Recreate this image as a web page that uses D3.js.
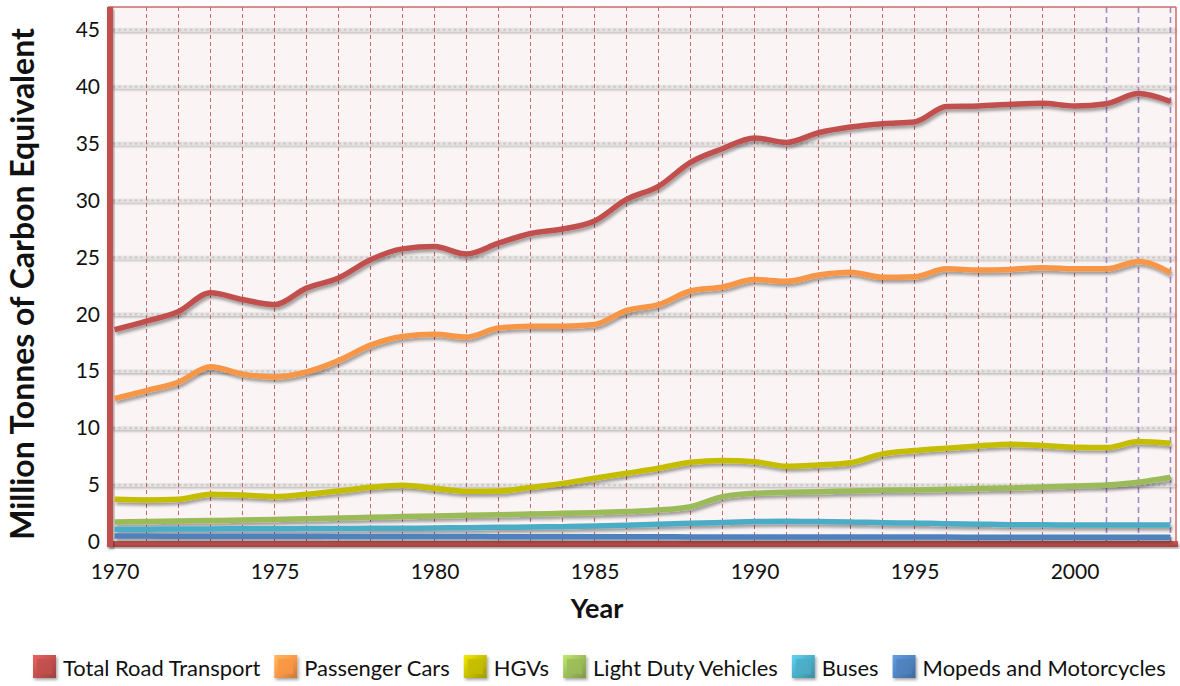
<!DOCTYPE html>
<html>
<head>
<meta charset="utf-8">
<script src="https://cdn.jsdelivr.net/npm/d3@7/dist/d3.min.js"></script>
<style>
  html, body { margin: 0; padding: 0; background: #ffffff; }
  svg { display: block; font-family: Lato, "Open Sans", sans-serif; }
</style>
</head>
<body>
<svg id="chart" width="1180" height="686"></svg>
<script>
// ---- data -----------------------------------------------------------------
const years = [1970, 1971, 1972, 1973, 1974, 1975, 1976, 1977, 1978, 1979,
               1980, 1981, 1982, 1983, 1984, 1985, 1986, 1987, 1988, 1989,
               1990, 1991, 1992, 1993, 1994, 1995, 1996, 1997, 1998, 1999,
               2000, 2001, 2002, 2003];

const totalRoadTransport = [18.65, 19.4, 20.25, 21.9, 21.3, 20.85, 22.3, 23.2, 24.8, 25.75,
                            25.95, 25.3, 26.25, 27.1, 27.5, 28.2, 30.1, 31.25, 33.35, 34.55,
                            35.5, 35.1, 35.95, 36.45, 36.75, 36.9, 38.25, 38.3, 38.45, 38.55,
                            38.3, 38.5, 39.4, 38.7];

const passengerCars = [12.6, 13.3, 14.05, 15.4, 14.75, 14.5, 14.95, 15.95, 17.3, 18.05,
                       18.25, 18.0, 18.8, 18.95, 18.95, 19.1, 20.35, 20.85, 22.05, 22.4,
                       23.05, 22.9, 23.45, 23.7, 23.25, 23.3, 24.0, 23.9, 23.95, 24.1,
                       24.0, 24.0, 24.65, 23.65];

const hgvs = [3.75, 3.7, 3.75, 4.2, 4.12, 4.0, 4.2, 4.48, 4.8, 4.98,
              4.72, 4.45, 4.48, 4.8, 5.15, 5.6, 6.04, 6.48, 7.0, 7.15,
              7.06, 6.65, 6.77, 6.97, 7.74, 8.03, 8.24, 8.44, 8.59, 8.47,
              8.33, 8.3, 8.82, 8.68];

const lightDutyVehicles = [1.76, 1.8, 1.84, 1.88, 1.93, 1.98, 2.04, 2.1, 2.17, 2.23,
                           2.29, 2.35, 2.4, 2.45, 2.52, 2.58, 2.67, 2.81, 3.1, 3.98,
                           4.28, 4.36, 4.42, 4.49, 4.55, 4.57, 4.63, 4.69, 4.75, 4.84,
                           4.93, 5.01, 5.25, 5.69];

const buses = [1.12, 1.13, 1.14, 1.15, 1.16, 1.17, 1.18, 1.19, 1.2, 1.21,
               1.23, 1.26, 1.29, 1.32, 1.35, 1.4, 1.47, 1.55, 1.64, 1.72,
               1.79, 1.82, 1.79, 1.75, 1.7, 1.66, 1.61, 1.57, 1.52, 1.51,
               1.5, 1.5, 1.5, 1.5];

const mopedsAndMotorcycles = [0.52, 0.52, 0.51, 0.51, 0.5, 0.5, 0.5, 0.49, 0.49, 0.48,
                              0.48, 0.48, 0.47, 0.47, 0.47, 0.46, 0.46, 0.46, 0.45, 0.45,
                              0.45, 0.44, 0.44, 0.44, 0.43, 0.43, 0.43, 0.42, 0.42, 0.42,
                              0.42, 0.42, 0.42, 0.42];

const seriesNames = ["Total Road Transport", "Passenger Cars", "HGVs",
                     "Light Duty Vehicles", "Buses", "Mopeds and Motorcycles"];
const seriesValues = [totalRoadTransport, passengerCars, hgvs,
                      lightDutyVehicles, buses, mopedsAndMotorcycles];
const seriesColors = ["#c0504d", "#f79646", "#c4bd00", "#9bbb59", "#4bacc6", "#4f81bd"];

const yTickValues = [0, 5, 10, 15, 20, 25, 30, 35, 40, 45];
const xTickValues = [1970, 1975, 1980, 1985, 1990, 1995, 2000];
const projectedYears = [2001, 2002, 2003];

// ---- layout ---------------------------------------------------------------
const svg = d3.select("#chart");
const plot = { left: 108, right: 1176, top: 7, bottom: 542 };

const x = d3.scaleLinear().domain([1970, 2003]).range([114.5, 1170.5]);
const y = d3.scaleLinear().domain([0, 47]).range([plot.bottom, plot.top]);

const defs = svg.append("defs");

const lineShadow = defs.append("filter").attr("id", "lineShadow")
  .attr("x", "-5%").attr("y", "-50%").attr("width", "110%").attr("height", "200%");
lineShadow.append("feDropShadow").attr("dx", 1.5).attr("dy", 3)
  .attr("stdDeviation", 1.8).attr("flood-color", "#000").attr("flood-opacity", 0.35);

const gridShadow = defs.append("filter").attr("id", "gridShadow")
  .attr("x", "-5%").attr("y", "-300%").attr("width", "110%").attr("height", "700%");
gridShadow.append("feDropShadow").attr("dx", 0).attr("dy", 1.5)
  .attr("stdDeviation", 1).attr("flood-color", "#000").attr("flood-opacity", 0.25);

const barShadow = defs.append("filter").attr("id", "barShadow")
  .attr("x", "-20%").attr("y", "-20%").attr("width", "140%").attr("height", "140%");
barShadow.append("feDropShadow").attr("dx", 1.5).attr("dy", 2)
  .attr("stdDeviation", 1.5).attr("flood-color", "#000").attr("flood-opacity", 0.35);

// plot background
svg.append("rect")
  .attr("x", plot.left).attr("y", plot.top)
  .attr("width", plot.right - plot.left).attr("height", plot.bottom + 5 - plot.top)
  .attr("fill", "#faf4f4");

// horizontal dotted gridlines
const hGrid = svg.append("g").attr("filter", "url(#gridShadow)");
yTickValues.filter(v => v > 0).forEach(v => {
  hGrid.append("line")
    .attr("x1", plot.left + 6).attr("x2", plot.right)
    .attr("y1", y(v)).attr("y2", y(v))
    .attr("stroke", "#e6e3e3").attr("stroke-width", 3.5);
  hGrid.append("line")
    .attr("x1", plot.left + 6).attr("x2", plot.right)
    .attr("y1", y(v)).attr("y2", y(v))
    .attr("stroke", "#cfcaca").attr("stroke-width", 2.6)
    .attr("stroke-linecap", "round").attr("stroke-dasharray", "0.1 5.4");
});

// vertical dashed gridlines, one per year
const vGrid = svg.append("g");
years.filter(yr => yr > 1970).forEach(yr => {
  const projected = projectedYears.includes(yr);
  vGrid.append("line")
    .attr("x1", x(yr)).attr("x2", x(yr))
    .attr("y1", plot.top).attr("y2", plot.bottom)
    .attr("stroke", projected ? "#9c86bf" : "#c94a4a")
    .attr("stroke-width", projected ? 1.6 : 1)
    .attr("stroke-dasharray", projected ? "6 4" : "4 3")
    .attr("opacity", projected ? 0.95 : 0.85);
});

// frame: thin top/right edges, thick left/bottom walls
svg.append("line").attr("x1", plot.left).attr("x2", plot.right)
  .attr("y1", plot.top).attr("y2", plot.top)
  .attr("stroke", "#cd6b68").attr("stroke-width", 1.5);
svg.append("line").attr("x1", plot.right).attr("x2", plot.right)
  .attr("y1", plot.top).attr("y2", plot.bottom + 4)
  .attr("stroke", "#cd6b68").attr("stroke-width", 1.5);

const wallGrad = defs.append("linearGradient").attr("id", "wallGrad")
  .attr("x1", 0).attr("y1", 0).attr("x2", 0).attr("y2", 1);
wallGrad.append("stop").attr("offset", "0%").attr("stop-color", "#cc5c59");
wallGrad.append("stop").attr("offset", "100%").attr("stop-color", "#a8403d");

svg.append("rect").attr("x", plot.left - 1).attr("y", plot.bottom - 1)
  .attr("width", plot.right - plot.left + 3).attr("height", 6)
  .attr("fill", "url(#wallGrad)").attr("filter", "url(#barShadow)");
svg.append("rect").attr("x", plot.left - 1).attr("y", plot.top)
  .attr("width", 6).attr("height", plot.bottom + 5 - plot.top)
  .attr("fill", "#c0504d").attr("filter", "url(#barShadow)");

// series lines
const line = d3.line()
  .x((d, i) => x(years[i]))
  .y(d => y(d))
  .curve(d3.curveMonotoneX);

const linesG = svg.append("g").attr("filter", "url(#lineShadow)");
seriesValues.forEach((vals, k) => {
  linesG.append("path")
    .datum(vals)
    .attr("d", line)
    .attr("fill", "none")
    .attr("stroke", seriesColors[k])
    .attr("stroke-width", 5.5)
    .attr("stroke-linejoin", "round")
    .attr("stroke-linecap", "butt");
});

// axes
const yAxis = svg.append("g")
  .attr("transform", `translate(${plot.left},0)`)
  .call(d3.axisLeft(y).tickValues(yTickValues).tickSize(0).tickPadding(8));
yAxis.select(".domain").remove();
yAxis.selectAll("text").attr("font-size", 21).attr("fill", "#111")
  .attr("font-family", "Lato, 'Open Sans', sans-serif");

const xAxis = svg.append("g")
  .attr("transform", `translate(0,${plot.bottom})`)
  .call(d3.axisBottom(x).tickValues(xTickValues).tickFormat(d3.format("d"))
        .tickSize(0).tickPadding(22));
xAxis.select(".domain").remove();
xAxis.selectAll("text").attr("font-size", 21).attr("fill", "#111")
  .attr("font-family", "Lato, 'Open Sans', sans-serif");

// axis titles
const yTitle = svg.append("text")
  .attr("transform", "translate(34,284) rotate(-90)")
  .attr("text-anchor", "middle")
  .attr("font-weight", "bold")
  .attr("font-size", 28)
  .attr("fill", "#111")
  .text("Million Tonnes of Carbon Equivalent");
const yTitleLen = yTitle.node().getComputedTextLength();
yTitle.attr("font-size", 28 * 512 / yTitleLen);

svg.append("text")
  .attr("x", 597).attr("y", 618)
  .attr("text-anchor", "middle")
  .attr("font-weight", "bold")
  .attr("font-size", 27)
  .attr("fill", "#111")
  .text("Year");

// legend
const legend = svg.append("g");
seriesColors.forEach((c, k) => {
  const g = defs.append("linearGradient").attr("id", "sw" + k)
    .attr("x1", 0).attr("y1", 0).attr("x2", 1).attr("y2", 1);
  g.append("stop").attr("offset", "0%").attr("stop-color", d3.color(c).brighter(0.6));
  g.append("stop").attr("offset", "55%").attr("stop-color", c);
  g.append("stop").attr("offset", "100%").attr("stop-color", d3.color(c).darker(0.6));
});

const legendFont = 21;
const sw = 23, swGap = 7, itemGap = 14;
const items = seriesNames.map((name, k) => {
  const it = legend.append("g");
  it.append("rect").attr("class", "sw").attr("width", sw).attr("height", sw)
    .attr("fill", "url(#sw" + k + ")").attr("filter", "url(#barShadow)");
  it.append("rect").attr("x", 4).attr("y", 4).attr("width", sw - 8).attr("height", sw - 8)
    .attr("fill", seriesColors[k]).attr("opacity", 0.8);
  const t = it.append("text").attr("x", sw + swGap).attr("y", sw - 2)
    .attr("font-size", legendFont).attr("fill", "#111").text(name);
  return { g: it, t };
});
// fit the legend to its row
let total = 0;
items.forEach(o => { total += sw + swGap + o.t.node().getComputedTextLength(); });
total += itemGap * (items.length - 1);
const target = 1166 - 33;
const scale = (target - (sw + swGap) * items.length - itemGap * (items.length - 1)) /
              (total - (sw + swGap) * items.length - itemGap * (items.length - 1));
let cx = 33;
items.forEach(o => {
  o.t.attr("font-size", legendFont * scale);
  o.g.attr("transform", `translate(${cx},655)`);
  cx += sw + swGap + o.t.node().getComputedTextLength() + itemGap;
});
</script>
</body>
</html>
